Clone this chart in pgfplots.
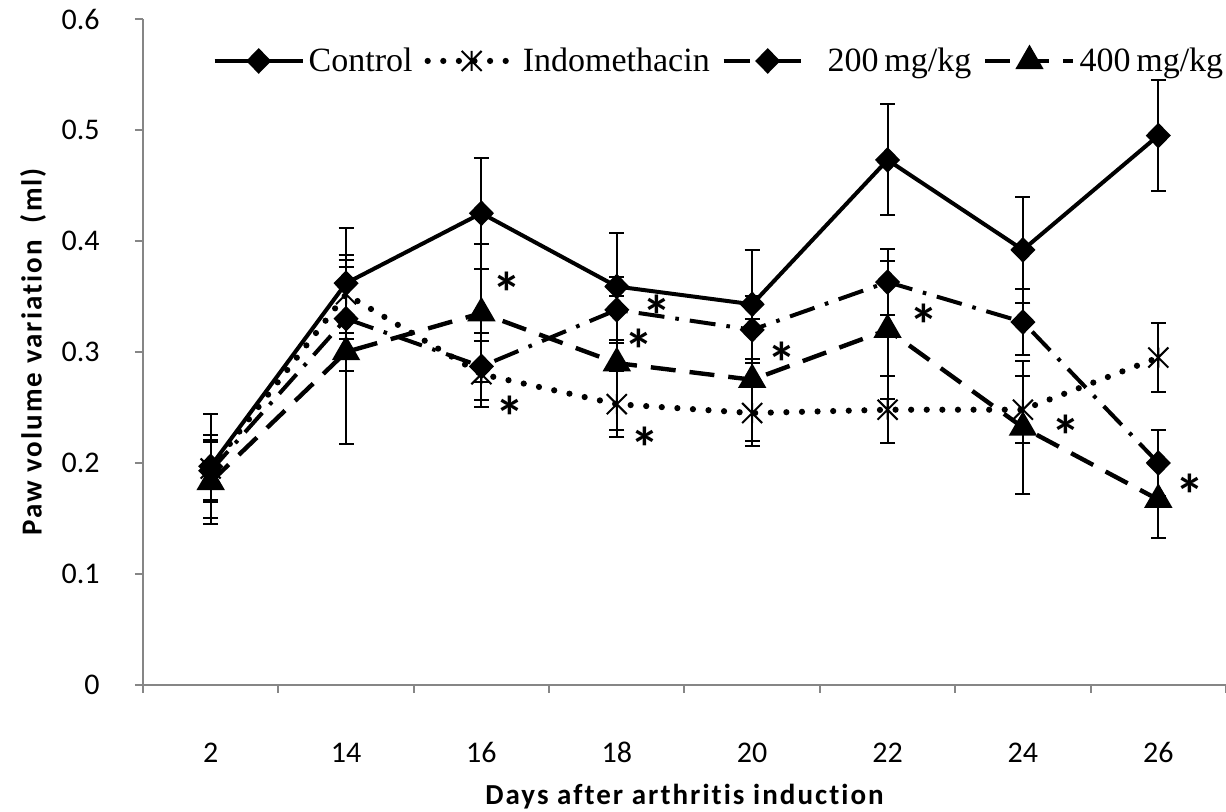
\documentclass[border=0pt]{standalone}
\usepackage{fontspec}
\setmainfont{Carlito}[Ligatures=NoCommon]
\newfontfamily\lbl{Carlito}[LetterSpace=7, Ligatures=NoCommon]
\newfontfamily\tnr{Liberation Serif}
\usepackage{pgfplots}
\usepackage{pgfplotstable}
\pgfplotsset{compat=1.18}
\definecolor{axgray}{RGB}{134,134,134}

% x with a vertical bar, like the spreadsheet "star" marker
\pgfdeclareplotmark{xstar}{%
  \pgfpathmoveto{\pgfqpoint{-\pgfplotmarksize}{-\pgfplotmarksize}}%
  \pgfpathlineto{\pgfqpoint{\pgfplotmarksize}{\pgfplotmarksize}}%
  \pgfpathmoveto{\pgfqpoint{-\pgfplotmarksize}{\pgfplotmarksize}}%
  \pgfpathlineto{\pgfqpoint{\pgfplotmarksize}{-\pgfplotmarksize}}%
  \pgfpathmoveto{\pgfqpoint{0pt}{-\pgfplotmarksize}}%
  \pgfpathlineto{\pgfqpoint{0pt}{\pgfplotmarksize}}%
  \pgfusepathqstroke}

\pgfplotsset{eb/.style={
  error bars/y dir=both, error bars/y explicit,
  error bars/error bar style={black, solid, line width=1pt, line cap=butt},
  error bars/error mark options={black, solid, rotate=90, mark size=3.75pt, line width=1pt}}}

% day index, mean, error
\pgfplotstableread{
x y e
0 0.197 0.047
1 0.362 0.050
2 0.425 0.050
3 0.359 0.048
4 0.343 0.049
5 0.473 0.050
6 0.392 0.048
7 0.495 0.050
}\ctrl
\pgfplotstableread{
x y e
0 0.195 0.030
1 0.352 0.035
2 0.280 0.030
3 0.253 0.030
4 0.245 0.030
5 0.248 0.030
6 0.248 0.030
7 0.295 0.031
}\indo
\pgfplotstableread{
x y e
0 0.193 0.026
1 0.330 0.047
2 0.287 0.030
3 0.338 0.030
4 0.320 0.030
5 0.363 0.030
6 0.327 0.030
7 0.200 0.030
}\lowdose
\pgfplotstableread{
x y e
0 0.183 0.038
1 0.300 0.083
2 0.335 0.062
3 0.290 0.060
4 0.275 0.055
5 0.320 0.062
6 0.232 0.060
7 0.167 0.035
}\highdose

\begin{document}
\begin{tikzpicture}
\useasboundingbox (-71.5pt,-63.5pt) rectangle (541.5pt,342.5pt);
\begin{axis}[
  at={(0,0)}, anchor=south west,
  width=541.5pt, height=333pt, scale only axis,
  xmin=-0.5, xmax=7.5, ymin=0, ymax=0.6,
  clip=false,
  axis x line*=bottom, axis y line*=left,
  axis line style={axgray, line width=1pt},
  xtick={0,...,7}, xticklabels={2,14,16,18,20,22,24,26},
  minor xtick={-0.5,0.5,1.5,2.5,3.5,4.5,5.5,6.5,7.5},
  ytick={0,0.1,0.2,0.3,0.4,0.5,0.6},
  yticklabels={0,0.1,0.2,0.3,0.4,0.5,0.6},
  tick align=outside, major tick length=4pt, minor tick length=4pt,
  major x tick style={draw=none},
  minor x tick style={axgray, line width=1pt},
  major y tick style={axgray, line width=1pt},
  xticklabel style={font=\fontsize{15}{18}\selectfont, anchor=base, inner sep=0pt, yshift=-35pt},
  yticklabel style={font=\fontsize{15}{18}\selectfont, anchor=east, inner sep=0pt, xshift=-17.5pt},
  xlabel={Days after arthritis induction},
  ylabel={Paw volume variation\ \ (ml)},
  xlabel style={font=\lbl\bfseries\fontsize{14.5}{18}\selectfont, at={(axis description cs:0.5,-0.1787)}, anchor=base},
  ylabel style={font=\lbl\bfseries\fontsize{14.5}{18}\selectfont, at={(axis description cs:-0.1016,0.5)}, anchor=center},
  legend columns=4,
  legend style={font=\tnr\fontsize{17}{20}\selectfont, draw=none, fill=none,
    at={(0.064,0.937)}, anchor=west, inner sep=0pt,
    /tikz/every even column/.append style={column sep=4pt}},
  legend image code/.code={%
    \draw[mark repeat=2, mark phase=2, #1] plot coordinates {(0pt,0pt) (22pt,0pt) (44pt,0pt)};},
]
\addplot[black, line width=2pt, mark=diamond*, mark size=5pt,
  mark options={solid, xscale=1.3}, eb]
  table[x=x, y=y, y error=e] {\ctrl};
\addlegendentry{Control}
\addplot[black, line width=3.1pt, line cap=round, dash pattern=on 0pt off 7.8pt,
  mark=xstar, mark size=5pt, mark options={solid, line width=1pt, line cap=butt}, eb]
  table[x=x, y=y, y error=e] {\indo};
\addlegendentry{Indomethacin}
\addplot[black, line width=2pt, dash pattern=on 13pt off 5.5pt on 1.8pt off 5.5pt,
  mark=diamond*, mark size=5pt, mark options={solid, xscale=1.3}, eb]
  table[x=x, y=y, y error=e] {\lowdose};
\addlegendentry{\hspace{5pt}200\,mg/kg}
\addplot[black, line width=2.2pt, dash pattern=on 12.5pt off 7pt,
  mark=triangle*, mark size=6pt, mark options={solid}, eb]
  table[x=x, y=y, y error=e] {\highdose};
\addlegendentry{400\,mg/kg}

\begin{scope}[every node/.style={font=\bfseries\fontsize{29}{32}\selectfont, inner sep=0pt, anchor=center, yshift=-4.8pt}]
\node at (axis cs:2.19,0.362) {*};
\node at (axis cs:2.21,0.250) {*};
\node at (axis cs:3.30,0.341) {*};
\node at (axis cs:3.16,0.311) {*};
\node at (axis cs:3.21,0.222) {*};
\node at (axis cs:4.22,0.299) {*};
\node at (axis cs:5.27,0.333) {*};
\node at (axis cs:6.32,0.233) {*};
\node at (axis cs:7.23,0.180) {*};
\end{scope}
\end{axis}
\end{tikzpicture}
\end{document}
